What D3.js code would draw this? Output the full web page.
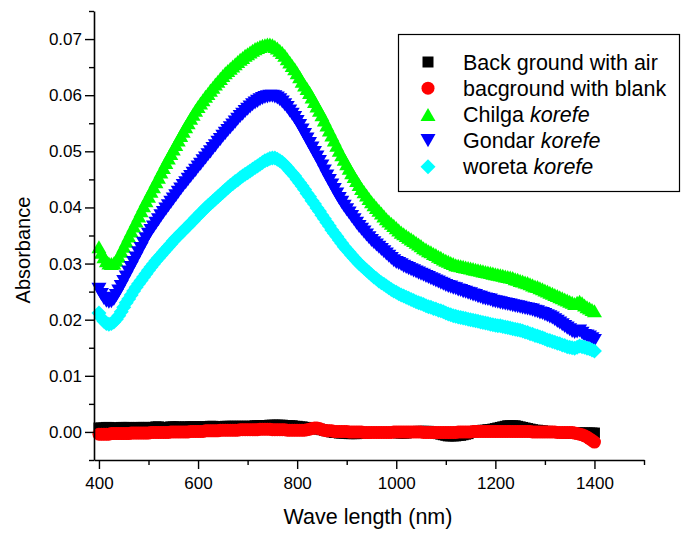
<!DOCTYPE html>
<html>
<head>
<meta charset="utf-8">
<script src="https://cdn.jsdelivr.net/npm/d3@7"></script>
<style>
  html, body { margin: 0; padding: 0; background: #fff; }
  svg { display: block; font-family: "Liberation Sans", Arial, sans-serif; }
</style>
</head>
<body>
<svg id="chart" width="683" height="534"></svg>
<script>
// Sampling grid (nm), 5 nm steps
const wavelength = d3.range(400, 1401, 5);

// Absorbance readings, one value per wavelength step (rows of 100 nm)
const airBackground = [
  .0007,.0007,.0007,.0008,.0008,.0007,.0007,.0007,.0007,.0008,.0008,.0008,.0008,.0007,.0007,.0008,.0008,.0008,.0008,.0008,
  .0008,.0008,.0008,.0009,.0009,.0008,.0008,.0008,.0008,.0009,.0009,.0009,.0009,.0008,.0008,.0009,.0009,.0009,.0009,.0009,
  .0009,.0009,.0009,.0009,.0009,.0010,.0010,.0009,.0009,.0009,.0009,.0010,.0010,.0010,.0010,.0010,.0010,.0010,.0010,.0010,
  .0010,.0010,.0010,.0011,.0011,.0011,.0011,.0011,.0011,.0012,.0012,.0012,.0012,.0012,.0012,.0011,.0011,.0011,.0011,.0010,
  .0010,.0009,.0009,.0008,.0008,.0007,.0007,.0006,.0006,.0005,.0004,.0003,.0002,.0001,.0000,-.0001,-.0001,-.0002,-.0002,-.0002,
  -.0002,-.0003,-.0003,-.0003,-.0003,-.0002,-.0002,-.0002,-.0002,-.0001,-.0001,-.0001,-.0001,-.0001,-.0001,-.0001,-.0001,-.0001,-.0001,-.0001,
  -.0001,-.0002,-.0002,-.0002,-.0002,-.0001,-.0001,.0000,.0000,.0001,.0001,.0001,.0001,.0001,.0000,-.0001,-.0002,-.0003,-.0004,-.0005,
  -.0006,-.0007,-.0007,-.0007,-.0007,-.0006,-.0006,-.0005,-.0004,-.0003,-.0001,.0000,.0001,.0002,.0002,.0003,.0003,.0004,.0004,.0005,
  .0006,.0007,.0008,.0009,.0010,.0011,.0011,.0011,.0011,.0010,.0009,.0008,.0007,.0006,.0005,.0004,.0003,.0003,.0002,.0002,
  .0001,.0001,.0000,.0000,-.0001,-.0001,-.0001,-.0001,-.0002,-.0002,-.0002,-.0002,-.0002,-.0002,-.0002,-.0002,-.0002,-.0002,-.0002,-.0002,
  -.0002
];
const blankBackground = [
  -.0004,-.0004,-.0004,-.0004,-.0004,-.0003,-.0003,-.0003,-.0003,-.0003,-.0003,-.0003,-.0003,-.0002,-.0002,-.0002,-.0002,-.0002,-.0002,-.0002,
  -.0002,-.0001,-.0001,-.0001,-.0001,-.0001,-.0001,-.0001,-.0001,.0000,.0000,.0000,.0000,.0000,.0000,.0000,.0000,.0001,.0001,.0001,
  .0001,.0001,.0001,.0002,.0002,.0002,.0002,.0002,.0002,.0003,.0003,.0003,.0003,.0003,.0003,.0003,.0003,.0004,.0004,.0004,
  .0004,.0004,.0004,.0004,.0004,.0005,.0005,.0005,.0005,.0005,.0004,.0004,.0004,.0004,.0004,.0004,.0003,.0003,.0003,.0003,
  .0003,.0003,.0003,.0003,.0004,.0005,.0006,.0007,.0007,.0006,.0004,.0003,.0002,.0002,.0002,.0001,.0001,.0001,.0001,.0001,
  .0001,.0000,.0000,.0000,.0000,.0000,.0000,-.0001,-.0001,-.0001,-.0001,-.0001,-.0001,-.0001,-.0001,-.0001,-.0001,-.0001,-.0001,.0000,
  .0000,.0000,.0000,.0000,.0000,.0000,.0000,.0000,.0000,.0000,.0000,-.0001,-.0001,-.0001,-.0001,-.0001,-.0001,-.0001,-.0001,-.0001,
  -.0001,-.0001,-.0001,-.0001,-.0001,.0000,.0000,.0000,.0000,.0000,.0000,.0001,.0001,.0001,.0001,.0001,.0001,.0001,.0001,.0001,
  .0001,.0001,.0001,.0001,.0001,.0001,.0001,.0001,.0001,.0001,.0001,.0001,.0001,.0001,.0001,.0000,.0000,.0000,.0000,.0000,
  .0000,.0000,.0000,.0000,.0000,-.0001,-.0001,-.0001,-.0001,-.0001,-.0001,-.0001,-.0002,-.0003,-.0004,-.0005,-.0007,-.0009,-.0012,-.0015,
  -.0018
];
const chilgaKorefe = [
  .0330,.0320,.0312,.0305,.0301,.0300,.0301,.0306,.0313,.0322,.0331,.0340,.0349,.0358,.0367,.0376,.0385,.0394,.0403,.0412,
  .0420,.0429,.0437,.0446,.0454,.0463,.0471,.0480,.0488,.0496,.0504,.0512,.0520,.0528,.0536,.0544,.0551,.0559,.0566,.0573,
  .0580,.0586,.0592,.0598,.0603,.0609,.0614,.0620,.0625,.0630,.0635,.0640,.0644,.0648,.0652,.0656,.0660,.0664,.0667,.0671,
  .0674,.0677,.0680,.0683,.0685,.0687,.0689,.0690,.0691,.0691,.0690,.0687,.0684,.0680,.0676,.0671,.0665,.0659,.0653,.0647,
  .0640,.0633,.0625,.0618,.0612,.0605,.0597,.0589,.0581,.0573,.0565,.0556,.0547,.0538,.0529,.0520,.0511,.0502,.0494,.0486,
  .0478,.0470,.0462,.0455,.0448,.0441,.0434,.0428,.0422,.0416,.0410,.0405,.0400,.0395,.0390,.0385,.0380,.0376,.0372,.0368,
  .0364,.0360,.0356,.0353,.0350,.0347,.0344,.0341,.0338,.0335,.0332,.0328,.0326,.0323,.0321,.0318,.0316,.0313,.0311,.0308,
  .0306,.0304,.0302,.0300,.0298,.0297,.0296,.0295,.0294,.0293,.0292,.0291,.0290,.0289,.0288,.0287,.0286,.0285,.0284,.0283,
  .0282,.0281,.0280,.0279,.0278,.0277,.0276,.0275,.0273,.0272,.0270,.0269,.0267,.0266,.0264,.0262,.0260,.0259,.0257,.0255,
  .0253,.0251,.0249,.0247,.0245,.0243,.0241,.0239,.0237,.0235,.0233,.0231,.0229,.0231,.0233,.0230,.0226,.0223,.0221,.0218,
  .0216
];
const gondarKorefe = [
  .0254,.0245,.0238,.0233,.0231,.0232,.0236,.0243,.0251,.0259,.0268,.0276,.0285,.0293,.0302,.0310,.0319,.0327,.0336,.0344,
  .0352,.0359,.0365,.0372,.0378,.0385,.0391,.0397,.0403,.0409,.0415,.0421,.0427,.0433,.0439,.0444,.0450,.0455,.0461,.0466,
  .0472,.0477,.0483,.0488,.0494,.0499,.0505,.0510,.0516,.0521,.0527,.0532,.0537,.0542,.0547,.0552,.0557,.0562,.0566,.0571,
  .0575,.0579,.0583,.0586,.0589,.0592,.0594,.0596,.0597,.0598,.0598,.0597,.0595,.0592,.0588,.0583,.0578,.0572,.0566,.0560,
  .0553,.0546,.0538,.0530,.0522,.0514,.0506,.0498,.0490,.0482,.0474,.0465,.0456,.0448,.0440,.0432,.0424,.0416,.0409,.0402,
  .0396,.0390,.0384,.0378,.0372,.0366,.0361,.0356,.0351,.0346,.0341,.0337,.0333,.0329,.0325,.0321,.0317,.0313,.0309,.0305,
  .0302,.0300,.0298,.0295,.0293,.0291,.0289,.0287,.0285,.0283,.0281,.0279,.0277,.0275,.0273,.0271,.0269,.0267,.0265,.0263,
  .0261,.0259,.0258,.0256,.0255,.0253,.0252,.0250,.0249,.0247,.0246,.0244,.0243,.0241,.0240,.0238,.0237,.0236,.0235,.0233,
  .0232,.0231,.0230,.0229,.0228,.0227,.0226,.0225,.0224,.0223,.0222,.0221,.0220,.0219,.0218,.0217,.0215,.0214,.0212,.0211,
  .0209,.0207,.0205,.0203,.0200,.0197,.0194,.0191,.0188,.0185,.0182,.0179,.0177,.0178,.0180,.0176,.0172,.0171,.0169,.0166,
  .0163
];
const woretaKorefe = [
  .0212,.0203,.0197,.0193,.0192,.0193,.0196,.0201,.0207,.0214,.0222,.0230,.0237,.0244,.0251,.0258,.0264,.0270,.0276,.0282,
  .0288,.0294,.0299,.0305,.0310,.0315,.0320,.0325,.0330,.0335,.0340,.0345,.0349,.0354,.0358,.0363,.0367,.0372,.0376,.0381,
  .0385,.0390,.0394,.0399,.0403,.0407,.0411,.0415,.0419,.0423,.0427,.0431,.0435,.0439,.0442,.0446,.0449,.0453,.0456,.0459,
  .0462,.0465,.0468,.0471,.0474,.0477,.0480,.0483,.0485,.0487,.0488,.0488,.0486,.0483,.0480,.0476,.0471,.0466,.0461,.0456,
  .0450,.0444,.0438,.0432,.0425,.0419,.0412,.0406,.0399,.0393,.0386,.0380,.0373,.0367,.0360,.0354,.0348,.0342,.0336,.0330,
  .0325,.0320,.0315,.0310,.0305,.0300,.0296,.0292,.0288,.0284,.0280,.0276,.0273,.0269,.0266,.0263,.0260,.0257,.0254,.0251,
  .0249,.0246,.0244,.0242,.0240,.0238,.0236,.0234,.0232,.0230,.0229,.0227,.0225,.0223,.0222,.0220,.0219,.0217,.0216,.0214,
  .0212,.0210,.0209,.0207,.0206,.0205,.0204,.0203,.0202,.0201,.0200,.0199,.0198,.0197,.0196,.0195,.0194,.0193,.0192,.0191,
  .0190,.0189,.0189,.0188,.0187,.0186,.0185,.0184,.0183,.0182,.0181,.0180,.0178,.0177,.0175,.0174,.0172,.0171,.0169,.0168,
  .0166,.0164,.0163,.0161,.0160,.0158,.0157,.0155,.0154,.0152,.0151,.0150,.0149,.0151,.0153,.0152,.0151,.0149,.0148,.0146,
  .0144
];

// Tick values
const xMajorTicks = [400, 600, 800, 1000, 1200, 1400];
const xMinorTicks = [500, 700, 900, 1100, 1300, 1500];
const yMajorTicks = [0, 0.01, 0.02, 0.03, 0.04, 0.05, 0.06, 0.07];
const yMinorTicks = [-0.005, 0.005, 0.015, 0.025, 0.035, 0.045, 0.055, 0.065, 0.075];

// Marker shapes (sizes are full widths in px)
const shapes = {
  square: w => { const p = d3.path(), h = w / 2; p.rect(-h, -h, w, w); return p.toString(); },
  circle: w => { const p = d3.path(); p.arc(0, 0, w / 2, 0, 2 * Math.PI); p.closePath(); return p.toString(); },
  up: w => { const p = d3.path(), h = w * 0.87; p.moveTo(0, -h / 2); p.lineTo(w / 2, h / 2); p.lineTo(-w / 2, h / 2); p.closePath(); return p.toString(); },
  down: w => { const p = d3.path(), h = w * 0.87; p.moveTo(0, h / 2); p.lineTo(w / 2, -h / 2); p.lineTo(-w / 2, -h / 2); p.closePath(); return p.toString(); },
  diamond: w => { const p = d3.path(), h = w / 2; p.moveTo(0, -h); p.lineTo(h, 0); p.lineTo(0, h); p.lineTo(-h, 0); p.closePath(); return p.toString(); }
};

const series = [
  { name: "Back ground with air", italic: "", values: airBackground, color: "#000000", shape: "square", size: 11 },
  { name: "bacground with blank", italic: "", values: blankBackground, color: "#ff0000", shape: "circle", size: 13 },
  { name: "Chilga ", italic: "korefe", values: chilgaKorefe, color: "#00ff00", shape: "up", size: 15 },
  { name: "Gondar ", italic: "korefe", values: gondarKorefe, color: "#0000ff", shape: "down", size: 15 },
  { name: "woreta ", italic: "korefe", values: woretaKorefe, color: "#00ffff", shape: "diamond", size: 15 }
];

const svg = d3.select("#chart");
const x = d3.scaleLinear().domain([390, 1500]).range([94, 644]);
const y = d3.scaleLinear().domain([-0.005, 0.075]).range([460, 11]);

// Data markers
const plot = svg.append("g");
series.forEach(s => {
  const path = shapes[s.shape](s.size);
  plot.append("g")
    .attr("fill", s.color)
    .selectAll("path")
    .data(wavelength.map((w, i) => [w, s.values[i]]))
    .join("path")
    .attr("d", path)
    .attr("transform", d => `translate(${x(d[0])},${y(d[1])})`);
});

// Axes
function styleAxis(g) {
  g.select(".domain").attr("stroke", "#000").attr("stroke-width", 1.6);
  g.selectAll(".tick line").attr("stroke", "#000").attr("stroke-width", 1.4);
  g.selectAll("text").attr("fill", "#000").attr("font-size", 17)
    .attr("font-family", "'Liberation Sans', Arial, sans-serif");
}

const xAxis = svg.append("g").attr("transform", "translate(0,460)");
xAxis.call(d3.axisBottom(x).tickValues(xMinorTicks).tickSize(5).tickSizeOuter(0).tickFormat(""));
xAxis.append("g").call(d3.axisBottom(x).tickValues(xMajorTicks).tickSize(9).tickPadding(8).tickSizeOuter(0).tickFormat(d3.format("d")))
  .call(g => g.select(".domain").remove());
styleAxis(xAxis);

const yAxis = svg.append("g").attr("transform", "translate(94,0)");
yAxis.call(d3.axisLeft(y).tickValues(yMinorTicks).tickSize(5).tickSizeOuter(0).tickFormat(""));
yAxis.append("g").call(d3.axisLeft(y).tickValues(yMajorTicks).tickSize(9).tickPadding(3).tickSizeOuter(0).tickFormat(d3.format(".2f")))
  .call(g => g.select(".domain").remove());
styleAxis(yAxis);

// Axis titles
svg.append("text")
  .attr("x", 368).attr("y", 524)
  .attr("text-anchor", "middle").attr("font-size", 21.5)
  .text("Wave length (nm)");
svg.append("text")
  .attr("transform", "translate(30,250) rotate(-90)")
  .attr("text-anchor", "middle").attr("font-size", 20)
  .text("Absorbance");

// Legend
const legend = svg.append("g");
legend.append("rect")
  .attr("x", 398.5).attr("y", 34.5).attr("width", 281).attr("height", 157)
  .attr("fill", "#fff").attr("stroke", "#000").attr("stroke-width", 1.2);
series.forEach((s, i) => {
  const cy = 62 + i * 26.2;
  legend.append("path")
    .attr("d", shapes[s.shape](s.size))
    .attr("fill", s.color)
    .attr("transform", `translate(428,${cy})`);
  const t = legend.append("text")
    .attr("x", 463).attr("y", cy + 7.5)
    .attr("font-size", 21.5);
  t.append("tspan").text(s.name);
  if (s.italic) t.append("tspan").attr("font-style", "italic").text(s.italic);
});
</script>
</body>
</html>
